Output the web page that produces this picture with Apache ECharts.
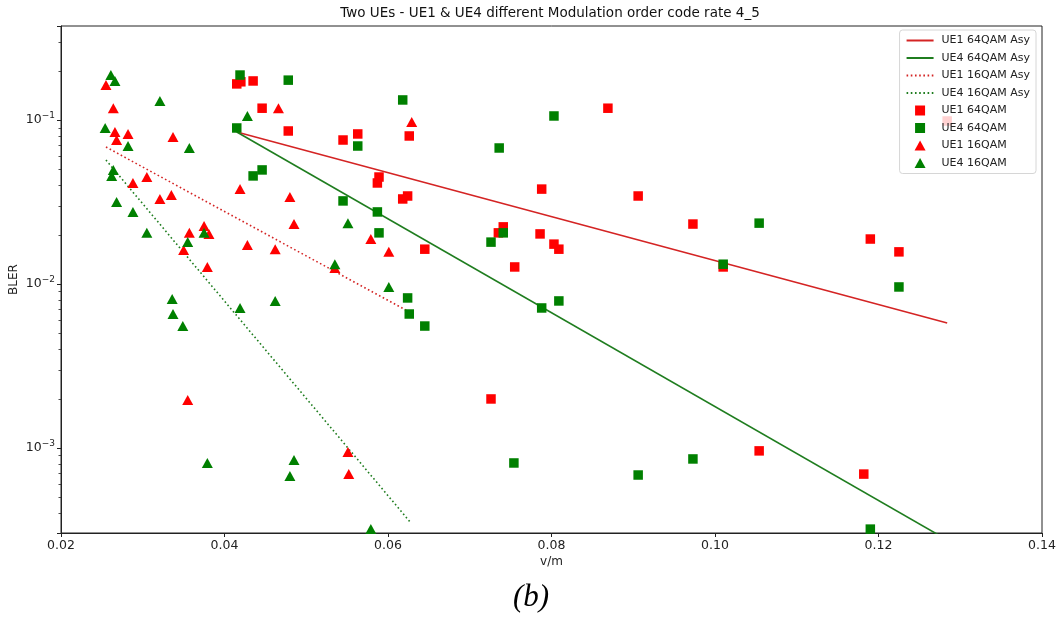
<!DOCTYPE html>
<html>
<head>
<meta charset="utf-8">
<script src="https://cdn.jsdelivr.net/npm/echarts@6/dist/echarts.min.js"></script>
<style>
html,body{margin:0;padding:0;background:#fff;}
#chart{width:1058px;height:617px;}
</style>
</head>
<body>
<div id="chart"></div>
<script>
// ---- data (v/m, BLER) ----
const ue1_64qam = [[0.0415,0.166],[0.0420,0.171],[0.0435,0.173],[0.0446,0.118],[0.0478,0.0857],[0.0545,0.0755],[0.0563,0.0822],[0.0626,0.0799],[0.0589,0.0449],[0.0587,0.0413],[0.0618,0.0330],[0.0624,0.0344],[0.0645,0.0163],[0.0869,0.118],[0.0788,0.0379],[0.0906,0.0344],[0.0973,0.0232],[0.0741,0.0223],[0.0735,0.0205],[0.0786,0.0202],[0.0803,0.0175],[0.0809,0.0163],[0.0755,0.0127],[0.1010,0.0127],[0.1190,0.0188],[0.1225,0.0157],[0.1284,0.0986],[0.0726,0.00199],[0.1054,0.00096],[0.1182,0.000693]];
const ue4_64qam = [[0.0419,0.188],[0.0415,0.0894],[0.0478,0.175],[0.0618,0.1325],[0.0563,0.0694],[0.0435,0.0456],[0.0446,0.0496],[0.0545,0.0321],[0.0587,0.0275],[0.0589,0.0205],[0.0803,0.1058],[0.0736,0.0675],[0.0741,0.0205],[0.0726,0.0180],[0.1010,0.0132],[0.0788,0.00714],[0.0809,0.00788],[0.1054,0.0235],[0.1225,0.00959],[0.0624,0.00822],[0.0626,0.00656],[0.0645,0.00554],[0.0754,0.00081],[0.0906,0.000684],[0.0973,0.000857],[0.0786,0.0003],[0.1190,0.00032]];
const ue1_16qam = [[0.0255,0.1634],[0.0264,0.118],[0.0266,0.0845],[0.0282,0.0822],[0.0268,0.0755],[0.0337,0.0788],[0.0305,0.0449],[0.0288,0.0413],[0.0321,0.0330],[0.0335,0.0349],[0.0375,0.0226],[0.0381,0.0202],[0.0357,0.0205],[0.0350,0.0161],[0.0379,0.0127],[0.0355,0.00196],[0.0419,0.0379],[0.0428,0.0173],[0.0462,0.0163],[0.0466,0.118],[0.0480,0.0339],[0.0485,0.0232],[0.0535,0.01253],[0.0551,0.000946],[0.0552,0.000693],[0.0579,0.0188],[0.0601,0.0157],[0.0629,0.0972]];
const ue4_16qam = [[0.0261,0.188],[0.0266,0.173],[0.0254,0.0894],[0.0321,0.1306],[0.0282,0.0694],[0.0357,0.0675],[0.0264,0.0496],[0.0262,0.0456],[0.0268,0.0316],[0.0288,0.0275],[0.0305,0.0205],[0.0375,0.0205],[0.0355,0.0180],[0.0336,0.0081],[0.0337,0.00656],[0.0349,0.00554],[0.0379,0.00081],[0.0381,0.00029],[0.0428,0.1058],[0.0419,0.00714],[0.0462,0.00788],[0.0485,0.000845],[0.0480,0.000675],[0.0535,0.0132],[0.0551,0.0235],[0.0601,0.00959],[0.0579,0.00032]];

const ue1_64qam_asy = [[0.0415,0.0845],[0.1284,0.00578]];
const ue4_64qam_asy = [[0.0415,0.0845],[0.1284,0.000275]];
const ue1_16qam_asy = [[0.0255,0.0684],[0.0624,0.00684]];
const ue4_16qam_asy = [[0.0255,0.0570],[0.0627,0.000354]];

const xTicks = [0.02,0.04,0.06,0.08,0.10,0.12,0.14];
const yMajorTicks = [0.001,0.01,0.1];
const yMinorTicks = [0.0004,0.0005,0.0006,0.0007,0.0008,0.0009,0.002,0.003,0.004,0.005,0.006,0.007,0.008,0.009,0.02,0.03,0.04,0.05,0.06,0.07,0.08,0.09,0.2,0.3];

const seriesNames = ['UE1 64QAM Asy','UE4 64QAM Asy','UE1 16QAM Asy','UE4 16QAM Asy','UE1 64QAM','UE4 64QAM','UE1 16QAM','UE4 16QAM'];

const FONT = "'DejaVu Sans', sans-serif";
const RED = '#ff0000', GREEN = '#008000';
const RED_LINE = '#d42424', GREEN_LINE = '#1f7d1f';
const SQUARE_ICON = 'path://M0,0L10,0L10,10L0,10Z';
const TRIANGLE_ICON = 'path://M5.5,0L11,10L0,10Z';

const chart = echarts.init(document.getElementById('chart'), null, {renderer:'canvas'});

function lineSeries(name, data, color, dotted){
  return {
    name, type:'line', data, symbol:'none', showSymbol:false, silent:true, z:2,
    lineStyle:{color, width:1.6, type: dotted ? [1.6,2.6] : 'solid', cap:'butt'},
    itemStyle:{color}
  };
}
function scatterSeries(name, data, color, symbol, size){
  return {
    name, type:'scatter', data, symbol, symbolSize:size, z:3, clip:true, silent:true,
    itemStyle:{color, opacity:1}
  };
}

const legendData = [
  {name:seriesNames[0], itemStyle:{opacity:0}},
  {name:seriesNames[1], itemStyle:{opacity:0}},
  {name:seriesNames[2], itemStyle:{opacity:0}},
  {name:seriesNames[3], itemStyle:{opacity:0}},
  {name:seriesNames[4], icon:SQUARE_ICON},
  {name:seriesNames[5], icon:SQUARE_ICON},
  {name:seriesNames[6], icon:TRIANGLE_ICON},
  {name:seriesNames[7], icon:TRIANGLE_ICON}
];

chart.setOption({
  animation:false,
  backgroundColor:'#ffffff',
  textStyle:{fontFamily:FONT},
  grid:{left:61, right:16, top:26, bottom:84, containLabel:false, outerBoundsMode:'none',
        show:true, borderColor:'#222', borderWidth:1, backgroundColor:'transparent'},
  legend:{
    orient:'vertical', right:22, top:30, z:20,
    data:legendData,
    itemWidth:27, itemHeight:10, itemGap:6.5,
    padding:[5,6,5,6],
    backgroundColor:'rgba(255,255,255,0.82)',
    borderColor:'#d6d6d6', borderWidth:1, borderRadius:3,
    textStyle:{fontFamily:FONT, fontSize:11, color:'#222', padding:[0,0,0,3]},
    symbolKeepAspect:true,
    selectedMode:false
  },
  xAxis:{
    type:'value', min:0.02, max:0.14, interval:0.02,
    name:'v/m', nameLocation:'middle', nameGap:23, nameMoveOverlap:false,
    nameTextStyle:{fontFamily:FONT, fontSize:12, color:'#222'},
    axisLine:{show:true, lineStyle:{color:'#222', width:1}},
    axisTick:{show:true, inside:false, length:4, lineStyle:{color:'#222'}},
    axisLabel:{fontFamily:FONT, fontSize:12.5, color:'#222', margin:6,
      formatter:(v)=>{ const t = xTicks.find(x=>Math.abs(x-v)<1e-9); return t===undefined?'':t.toFixed(2); }},
    splitLine:{show:false}
  },
  yAxis:{
    type:'log', logBase:10, min:0.000303, max:0.3743,
    name:'BLER', nameLocation:'middle', nameGap:41, nameMoveOverlap:false,
    nameTextStyle:{fontFamily:FONT, fontSize:12, color:'#222'},
    axisLine:{show:true, lineStyle:{color:'#222', width:1}},
    axisTick:{show:true, inside:false, length:4, lineStyle:{color:'#222'}},
    axisLabel:{fontFamily:FONT, fontSize:12.5, color:'#222', margin:6,
      formatter:(v)=>{
        const m = yMajorTicks.find(t=>Math.abs(t-v)/t<1e-6);
        if(m===undefined) return '';
        const e = Math.round(Math.log10(m));
        return '10{sup|\u2212' + Math.abs(e) + '}';
      },
      rich:{sup:{fontSize:9, fontFamily:FONT, color:'#222', verticalAlign:'top', padding:[0,0,8,0]}}
    },
    splitLine:{show:false},
    minorTick:{show:false}
  },
  graphic:[
    {type:'text', x:550, y:13, style:{text:'Two UEs - UE1 & UE4 different Modulation order code rate 4_5', fontFamily:FONT, fontSize:13.5, fill:'#111', align:'center', verticalAlign:'middle'}},
    {type:'text', x:531, y:598, style:{text:'(b)', fontFamily:"'Liberation Serif', 'DejaVu Serif', serif", fontStyle:'italic', fontSize:31, fill:'#000', align:'center', verticalAlign:'middle'}}
  ],
  series:[
    lineSeries(seriesNames[0], ue1_64qam_asy, RED_LINE, false),
    lineSeries(seriesNames[1], ue4_64qam_asy, GREEN_LINE, false),
    lineSeries(seriesNames[2], ue1_16qam_asy, RED_LINE, true),
    lineSeries(seriesNames[3], ue4_16qam_asy, GREEN_LINE, true),
    scatterSeries(seriesNames[4], ue1_64qam, RED, 'rect', 9.5),
    scatterSeries(seriesNames[5], ue4_64qam, GREEN, 'rect', 9.5),
    scatterSeries(seriesNames[6], ue1_16qam, RED, 'triangle', [11,10]),
    scatterSeries(seriesNames[7], ue4_16qam, GREEN, 'triangle', [11,10]),
    {
      name:'minorTicks', type:'custom', silent:true, clip:false, z:5,
      data: yMinorTicks.map(v=>[xTicks[0], v]),
      renderItem:(params, api)=>{
        const p = api.coord([api.value(0), api.value(1)]);
        return {type:'line', shape:{x1:p[0]-2.5, y1:Math.round(p[1])+0.5, x2:p[0], y2:Math.round(p[1])+0.5}, style:{stroke:'#222', lineWidth:0.8}};
      }
    }
  ]
});
</script>
</body>
</html>
